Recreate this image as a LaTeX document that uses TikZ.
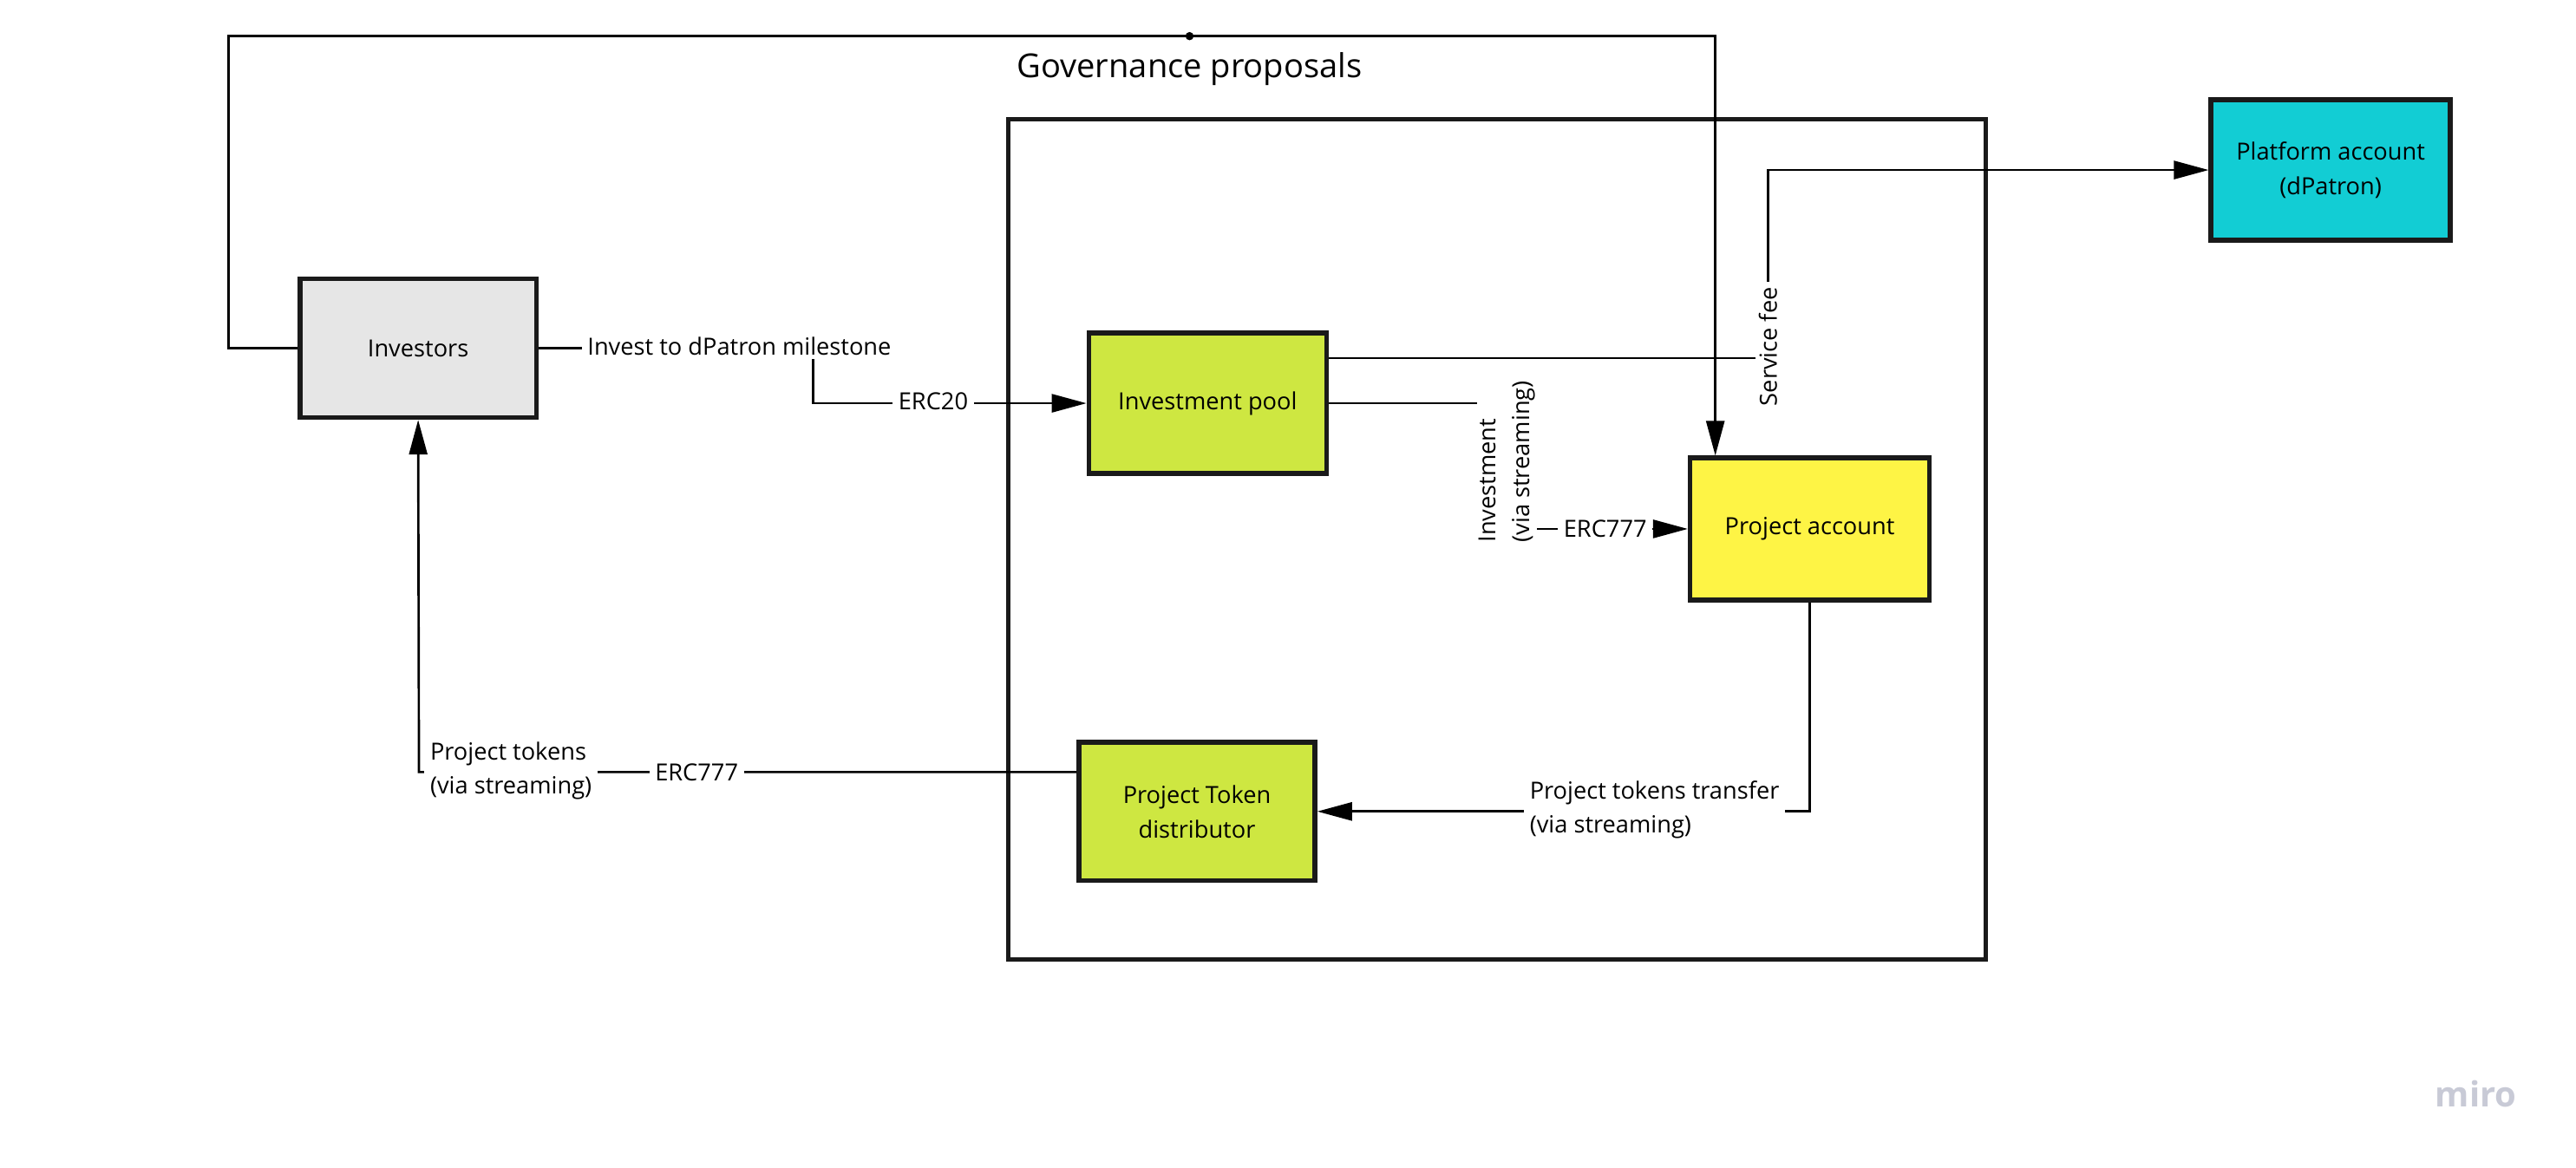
\documentclass[tikz,border=0pt]{standalone}
\usepackage{fontspec}
\setmainfont{Open Sans}
\usetikzlibrary{arrows.meta,calc}
\definecolor{gfill}{HTML}{E6E6E6}
\definecolor{lime}{HTML}{CEE741}
\definecolor{yel}{HTML}{FEF445}
\definecolor{cyanf}{HTML}{12CDD4}
\definecolor{edge}{HTML}{1A1A1A}
\definecolor{mirog}{HTML}{C8CAD6}
\tikzset{
  boxn/.style={draw=edge, line width=2.8pt, minimum width=143pt, minimum height=84pt, align=center, font=\fontsize{14.3}{21}\selectfont, inner sep=0pt},
  conn/.style={draw=black, line width=1.4pt},
  arr/.style={conn, -{Triangle[length=21pt,width=11pt]}},
  lbl/.style={fill=white, inner xsep=3.5pt, inner ysep=2pt, font=\fontsize{14.3}{20.5}\selectfont, align=left},
  dotn/.style={circle, fill=black, inner sep=0pt, minimum size=5pt}
}
\begin{document}
\begin{tikzpicture}[x=0.995pt,y=-0.995pt]
\useasboundingbox[fill=white] (0,0) rectangle (1567.84,710.55);
% frame
\node[draw=edge, line width=2.8pt, minimum width=592pt, minimum height=509pt, inner sep=0pt] (frame) at (911,328.5) {};
\node[font=\fontsize{20}{24}\selectfont] (gov) at (724,42) {Governance proposals};
% boxes
\node[boxn, fill=gfill] (inv) at (254.5,212) {Investors};
\node[boxn, fill=lime, minimum width=144pt, minimum height=85pt] (pool) at (735,245.5) {Investment pool};
\node[boxn, fill=yel, minimum width=145pt, minimum height=86pt] (pa) at (1101.5,322) {Project account};
\node[boxn, fill=lime] (dist) at (728.5,494) {Project Token\\distributor};
\node[boxn, fill=cyanf, minimum width=145pt, minimum height=85pt] (plat) at (1418.5,103.5) {Platform account\\(dPatron)};
% coordinates
\coordinate (lc) at (139,22);
\coordinate (tc) at (1044,22);
\coordinate (c2) at (495,212);
\coordinate (c3) at (1076,218);
\coordinate (c4) at (917,245.5);
\coordinate (c6) at (255,470);
% connectors
\draw[arr] (inv.west) -| (lc) -- (tc) -- (tc |- pa.north);
\node[dotn] (mid) at (724,22) {};
\draw[arr] (inv.east) -- (c2) -- (c2 |- pool.west) -- (pool.west);
\draw[arr] (pool.east |- c3) -- (c3) -- (c3 |- plat.west) -- (plat.west);
\draw[arr] (pool.east) -- (c4) -- (c4 |- pa.west) -- (pa.west);
\draw[arr] (pa.south) |- (dist.east);
\draw[arr] (dist.west |- c6) -- (c6) -- (inv.south);
% labels
\node[lbl] (l1) at (450,211) {Invest to dPatron milestone};
\node[lbl] (l2) at (568,244.5) {ERC20};
\node[lbl, rotate=90] (l3) at (1076,211) {Service fee};
\node[lbl, rotate=90, inner xsep=2pt, inner ysep=1pt] (l4) at (917,281) {Investment\\(via streaming)};
\node[lbl] (l5) at (977,322) {ERC777};
\node[lbl] (l6) at (1007,493) {Project tokens transfer\\(via streaming)};
\node[lbl] (l7) at (311,469) {Project tokens\\(via streaming)};
\node[lbl] (l8) at (424,470) {ERC777};
\node[font=\fontsize{21}{24}\selectfont\bfseries, text=mirog] (miro) at (1507,666) {miro};
\end{tikzpicture}
\end{document}
